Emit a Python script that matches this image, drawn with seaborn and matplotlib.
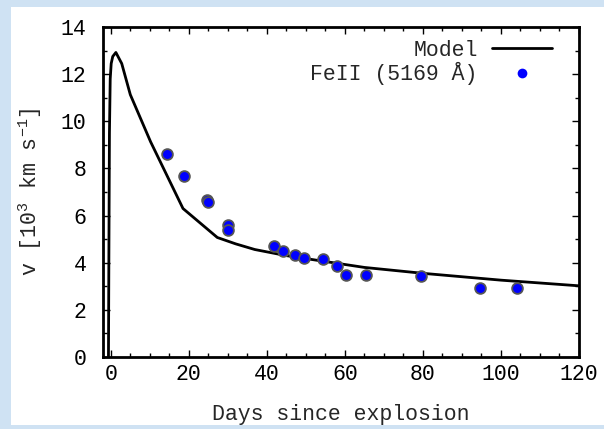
import numpy as np
import pandas as pd
import matplotlib
matplotlib.use("Agg")
import matplotlib.pyplot as plt
from matplotlib.lines import Line2D
from matplotlib.patches import Rectangle
from matplotlib.ticker import MultipleLocator
import seaborn as sns

# Model curve
model_days = [-0.6, -0.5, -0.35, -0.15, 0.1, 0.5, 1.3, 2.8, 5.0, 10.2, 18.5, 27.3, 32.0, 36.9, 45.0, 55.0, 65.0, 80.0, 100.0, 120.0]
model_vel = [0.0, 4.0, 9.5, 11.8, 12.45, 12.75, 12.92, 12.45, 11.13, 9.13, 6.30, 5.07, 4.80, 4.56, 4.30, 4.05, 3.80, 3.55, 3.26, 3.02]

# FeII 5169 observations
obs_days = [14.5, 18.7, 24.7, 24.8, 30.0, 30.1, 41.8, 44.1, 47.1, 49.5, 54.3, 58.1, 60.3, 65.4, 79.6, 94.7, 104.1]
obs_vel = [8.60, 7.69, 6.65, 6.56, 5.62, 5.38, 4.71, 4.51, 4.31, 4.22, 4.15, 3.84, 3.50, 3.50, 3.43, 2.91, 2.91]

xticks = [0, 20, 40, 60, 80, 100, 120]
yticks = [0, 2, 4, 6, 8, 10, 12, 14]

sns.set_style("ticks")
FONT = "Liberation Mono"
plt.rcParams["font.family"] = [FONT, "DejaVu Sans Mono"]
plt.rcParams["mathtext.fontset"] = "custom"
plt.rcParams["mathtext.rm"] = FONT
plt.rcParams["mathtext.it"] = FONT
plt.rcParams["mathtext.bf"] = FONT
plt.rcParams["mathtext.default"] = "rm"

FS = 15.5

fig = plt.figure(figsize=(6.04, 4.29), dpi=100)
fig.patch.set_facecolor("#cfe2f3")
bg = Rectangle((11 / 604, 4 / 429), 1 - 11 / 604, (429 - 7 - 4) / 429,
               transform=fig.transFigure, facecolor="white", edgecolor="none", zorder=-10)
fig.patches.append(bg)

ax = fig.add_axes([103 / 604, (429 - 357) / 429, (579 - 103) / 604, (357 - 27) / 429])
ax.set_zorder(5)
ax.set_facecolor("white")

df_model = pd.DataFrame({"days": model_days, "v": model_vel})
df_obs = pd.DataFrame({"days": obs_days, "v": obs_vel})

sns.lineplot(data=df_model, x="days", y="v", ax=ax, color="black", lw=2.0,
             estimator=None, sort=False, zorder=2)
sns.scatterplot(data=df_obs, x="days", y="v", ax=ax, color="#0000ff",
                edgecolor="#555555", linewidth=1.3, s=60, zorder=3)

ax.set_xlim(-2, 120)
ax.set_ylim(0, 14)
ax.set_xticks(xticks)
ax.set_yticks(yticks)
ax.xaxis.set_minor_locator(MultipleLocator(5))
ax.yaxis.set_minor_locator(MultipleLocator(1))
ax.tick_params(which="both", direction="in", top=True, right=True, width=1.0,
               colors="black", labelsize=FS)
ax.tick_params(which="major", length=5)
ax.tick_params(which="minor", length=3)
ax.tick_params(axis="x", which="major", pad=5)
ax.tick_params(axis="y", which="major", pad=12)
for sp in ax.spines.values():
    sp.set_linewidth(2.0)
    sp.set_color("black")
    sp.set_visible(True)

ax.set_xlabel("Days since explosion", fontsize=FS, labelpad=14)
ax.set_ylabel(r"v [10$^{3}$ km s$^{-1}$]", fontsize=FS, labelpad=12)

handles = [
    Line2D([], [], color="black", lw=2.0),
    Line2D([], [], marker="o", ls="none", markersize=7, markerfacecolor="#0000ff",
           markeredgecolor="none"),
]
labels = ["Model", "FeII (5169 Å)"]
leg = ax.legend(handles, labels, loc="upper right", frameon=False, markerfirst=False,
                fontsize=FS, handlelength=2.8, handletextpad=0.65, labelspacing=0.05,
                bbox_to_anchor=(0.97, 1.0), borderaxespad=0.2)
for t in leg.get_texts():
    t.set_ha("right")

fig.savefig("out.png", dpi=100, facecolor=fig.get_facecolor())
